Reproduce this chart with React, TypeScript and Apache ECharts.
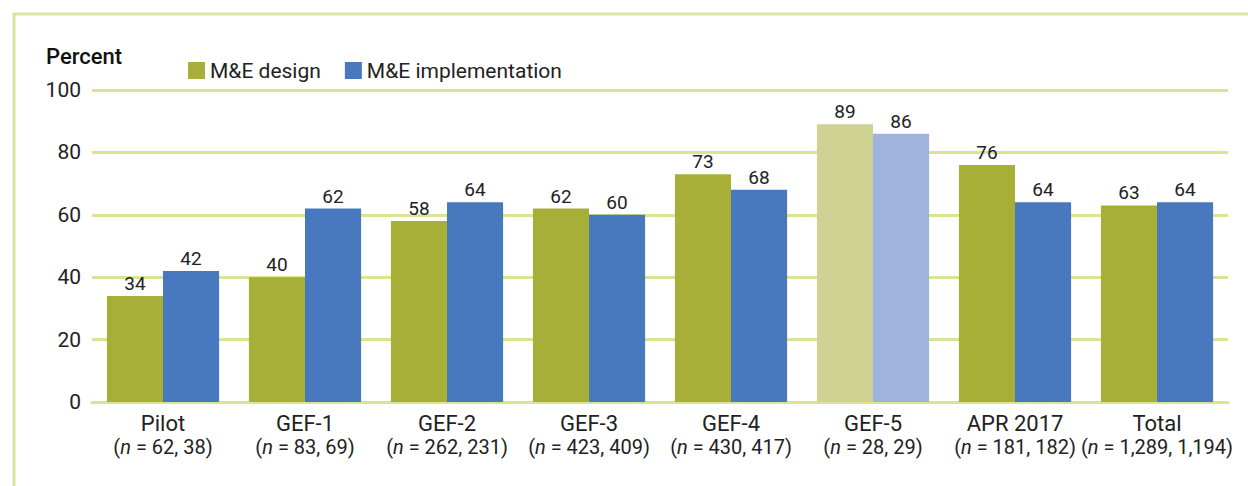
import React, { useEffect, useRef } from "react";
import * as echarts from "echarts";

const categories = ["Pilot", "GEF-1", "GEF-2", "GEF-3", "GEF-4", "GEF-5", "APR 2017", "Total"];
const nDesign = ["62", "83", "262", "423", "430", "28", "181", "1,289"];
const nImpl = ["38", "69", "231", "409", "417", "29", "182", "1,194"];
const designValues = [34, 40, 58, 62, 73, 89, 76, 63];
const implValues = [42, 62, 64, 60, 68, 86, 64, 64];
const fadedCategory = "GEF-5";
const yTicks = [0, 20, 40, 60, 80, 100];

const FONT = "Roboto, 'Noto Sans', sans-serif";
const DESIGN = "#a8af38";
const IMPL = "#4879be";
const DESIGN_FADED = "#d0d293";
const IMPL_FADED = "#a0b3dc";
const GRID = "#d8e593";

export default function App() {
  const ref = useRef<HTMLDivElement>(null);
  useEffect(() => {
    document.body.style.margin = "0";
    const chart = echarts.init(ref.current!, null, { renderer: "svg" });
    const mk = (vals: number[], col: string, faded: string) =>
      vals.map((v, i) => ({
        value: v,
        itemStyle: { color: categories[i] === fadedCategory ? faded : col },
      }));
    const valueLabel = {
      show: true,
      position: "top",
      distance: 3,
      fontSize: 19,
      color: "#222",
      fontFamily: FONT,
    };
    chart.setOption({
      animation: false,
      textStyle: { fontFamily: FONT },
      grid: { left: 92, right: 20, top: 90, bottom: 84 },
      legend: {
        left: 183,
        top: 55,
        icon: "rect",
        itemWidth: 17,
        itemHeight: 17,
        itemGap: 24,
        textStyle: { fontFamily: FONT, fontSize: 21, color: "#222" },
        data: ["M&E design", "M&E implementation"],
      },
      graphic: [
        {
          type: "polyline",
          shape: { points: [[14, 486], [14, 14], [1248, 14]] },
          style: { stroke: "#d9e6a0", lineWidth: 3, fill: "none" },
        },
        {
          type: "text",
          left: 46,
          top: 45,
          style: { text: "Percent", font: `500 22px ${FONT}`, fill: "#111" },
        },
      ],
      xAxis: {
        type: "category",
        data: categories,
        axisLine: { lineStyle: { color: GRID, width: 3 } },
        axisTick: { show: false },
        axisLabel: {
          interval: 0,
          margin: 9,
          color: "#222",
          formatter: (val: string, idx: number) =>
            `{a|${val}}\n{b|(}{i|n}{b| = ${nDesign[idx]}, ${nImpl[idx]})}`,
          rich: {
            a: { fontFamily: FONT, fontSize: 22, color: "#222", lineHeight: 24 },
            b: { fontFamily: FONT, fontSize: 20, color: "#222", lineHeight: 24 },
            i: { fontFamily: FONT, fontSize: 20, fontStyle: "italic", color: "#222", lineHeight: 24 },
          },
        },
      },
      yAxis: {
        type: "value",
        min: yTicks[0],
        max: yTicks[yTicks.length - 1],
        interval: 20,
        axisLine: { show: false },
        axisTick: { show: false },
        splitLine: { lineStyle: { color: GRID, width: 3 } },
        axisLabel: { margin: 11, fontSize: 21, color: "#222", fontFamily: FONT },
      },
      series: [
        {
          name: "M&E design",
          type: "bar",
          data: mk(designValues, DESIGN, DESIGN_FADED),
          itemStyle: { color: DESIGN },
          barGap: "0%",
          barCategoryGap: "21%",
          label: valueLabel,
        },
        {
          name: "M&E implementation",
          type: "bar",
          data: mk(implValues, IMPL, IMPL_FADED),
          itemStyle: { color: IMPL },
          barGap: "0%",
          barCategoryGap: "21%",
          label: valueLabel,
        },
      ],
    });
    return () => chart.dispose();
  }, []);
  return <div ref={ref} style={{ width: 1248, height: 486 }} />;
}
